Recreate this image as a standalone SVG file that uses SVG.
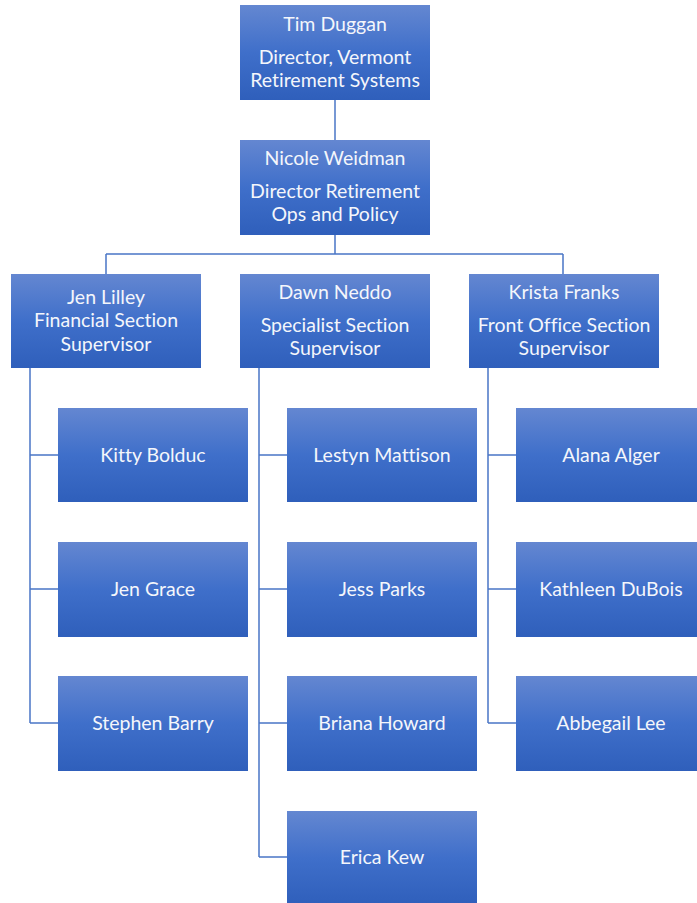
<svg xmlns="http://www.w3.org/2000/svg" width="697" height="903" viewBox="0 0 697 903">
<defs>
<linearGradient id="g" x1="0" y1="0" x2="0" y2="1">
<stop offset="0" stop-color="#6487d1"/>
<stop offset="0.5" stop-color="#3f6fca"/>
<stop offset="1" stop-color="#2f5fbb"/>
</linearGradient>
</defs>
<style>
.box{fill:url(#g);}
.t{font-family:Lato,"Open Sans","Liberation Sans",sans-serif;font-size:19.5px;fill:#f4f6fb;text-anchor:middle;dominant-baseline:central;font-variant-ligatures:none;}
.c{stroke:#4a76c6;stroke-width:1.5;fill:none;}
</style>
<rect width="697" height="903" fill="#ffffff"/>
<g id="connectors">
<path class="c" d="M335 100V140"/>
<path class="c" d="M335 235V254M106 254H563M106 254V274M563 254V274"/>
<path class="c" d="M30 368V723M30 455H58M30 589H58M30 723H58"/>
<path class="c" d="M259 368V857M259 455H287M259 589H287M259 723H287M259 857H287"/>
<path class="c" d="M488 368V723M488 455H516M488 589H516M488 723H516"/>
</g>
<g transform="translate(0,-1)">
<g id="tim"><rect class="box" x="240" y="6" width="190" height="95"/>
<text class="t" x="335" y="24">Tim Duggan</text>
<text class="t" x="335" y="57">Director, Vermont</text>
<text class="t" x="335" y="80">Retirement Systems</text></g>
<g id="nicole"><rect class="box" x="240" y="141" width="190" height="95"/>
<text class="t" x="335" y="158">Nicole Weidman</text>
<text class="t" x="335" y="191">Director Retirement</text>
<text class="t" x="335" y="214">Ops and Policy</text></g>
<g id="jenlilley"><rect class="box" x="11" y="275" width="190" height="94"/>
<text class="t" x="106" y="297">Jen Lilley</text>
<text class="t" x="106" y="320">Financial Section</text>
<text class="t" x="106" y="344">Supervisor</text></g>
<g id="dawn"><rect class="box" x="240" y="275" width="190" height="94"/>
<text class="t" x="335" y="292">Dawn Neddo</text>
<text class="t" x="335" y="325">Specialist Section</text>
<text class="t" x="335" y="348">Supervisor</text></g>
<g id="krista"><rect class="box" x="469" y="275" width="190" height="94"/>
<text class="t" x="564" y="292">Krista Franks</text>
<text class="t" x="564" y="325">Front Office Section</text>
<text class="t" x="564" y="348">Supervisor</text></g>
<g id="kitty"><rect class="box" x="58" y="409" width="190" height="94"/><text class="t" x="153" y="455">Kitty Bolduc</text></g>
<g id="jengrace"><rect class="box" x="58" y="543" width="190" height="95"/><text class="t" x="153" y="589">Jen Grace</text></g>
<g id="stephen"><rect class="box" x="58" y="677" width="190" height="95"/><text class="t" x="153" y="723">Stephen Barry</text></g>
<g id="lestyn"><rect class="box" x="287" y="409" width="190" height="94"/><text class="t" x="382" y="455">Lestyn Mattison</text></g>
<g id="jess"><rect class="box" x="287" y="543" width="190" height="95"/><text class="t" x="382" y="589">Jess Parks</text></g>
<g id="briana"><rect class="box" x="287" y="677" width="190" height="95"/><text class="t" x="382" y="723">Briana Howard</text></g>
<g id="erica"><rect class="box" x="287" y="812" width="190" height="94"/><text class="t" x="382" y="857">Erica Kew</text></g>
<g id="alana"><rect class="box" x="516" y="409" width="190" height="94"/><text class="t" x="611" y="455">Alana Alger</text></g>
<g id="kathleen"><rect class="box" x="516" y="543" width="190" height="95"/><text class="t" x="611" y="589">Kathleen DuBois</text></g>
<g id="abbegail"><rect class="box" x="516" y="677" width="190" height="95"/><text class="t" x="611" y="723">Abbegail Lee</text></g>
</g>
</svg>
